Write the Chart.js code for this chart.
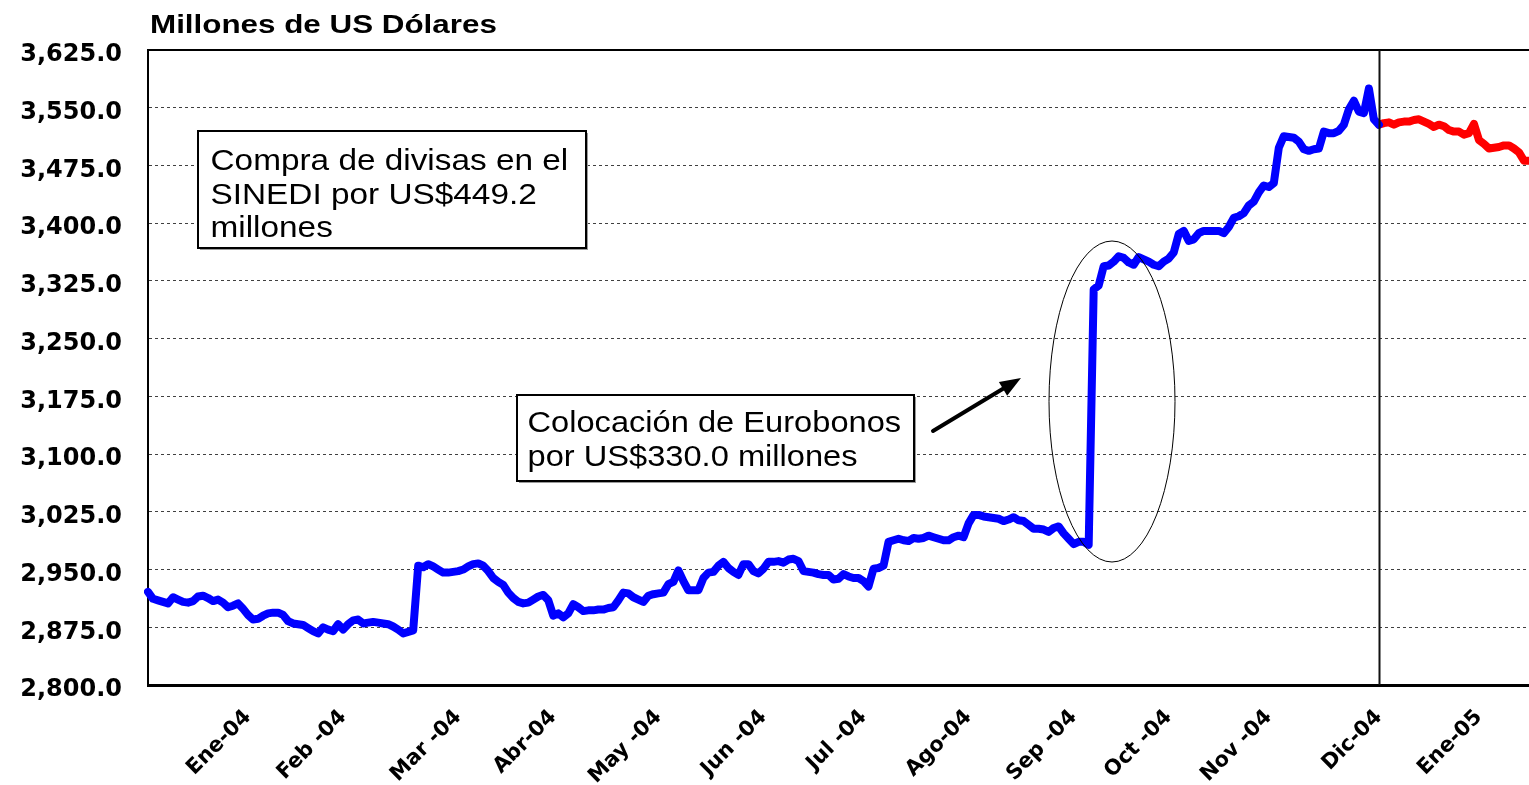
<!DOCTYPE html>
<html><head><meta charset="utf-8">
<script src="https://cdn.jsdelivr.net/npm/chart.js@4"></script>
<style>html,body{margin:0;padding:0;background:#fff;} #wrap{width:1529px;height:785px;position:relative;}</style>
</head><body><div id="wrap"><canvas id="c"></canvas></div>
<script>
// Reservas (millones de US$), serie diaria 2004 (azul) y enero 2005 (rojo)
const blueValues = [
2921,2912,2910,2908,2906,2914,2911,2908,2907,2909,
2915,2916,2913,2909,2911,2907,2901,2903,2906,2899,
2891,2885,2886,2890,2893,2894,2894,2891,2883,2880,
2879,2878,2874,2870,2867,2875,2872,2870,2879,2872,
2879,2884,2885,2880,2881,2882,2881,2880,2879,2876,
2872,2867,2869,2871,2955,2953,2957,2954,2950,2946,
2946,2947,2948,2950,2954,2957,2958,2955,2948,2939,
2934,2930,2920,2913,2908,2906,2907,2911,2915,2917,
2910,2890,2893,2888,2893,2905,2901,2896,2897,2897,
2898,2898,2900,2901,2910,2920,2919,2914,2911,2908,
2916,2918,2919,2920,2931,2934,2949,2935,2923,2923,
2923,2939,2946,2947,2955,2960,2952,2947,2943,2957,
2957,2948,2945,2951,2960,2960,2961,2959,2963,2964,
2961,2948,2947,2946,2944,2943,2943,2937,2938,2944,
2941,2939,2939,2935,2928,2951,2952,2955,2986,2988,
2990,2988,2987,2991,2990,2991,2994,2992,2990,2988,
2988,2992,2994,2992,3010,3021,3021,3019,3018,3017,
3016,3013,3015,3018,3014,3013,3008,3003,3003,3002,
2999,3004,3006,2997,2990,2983,2986,2986,2982,3314,
3319,3344,3345,3350,3357,3355,3349,3346,3356,3353,
3350,3346,3344,3350,3354,3362,3386,3390,3377,3379,
3387,3390,3390,3390,3390,3387,3395,3407,3409,3413,
3423,3428,3440,3449,3447,3452,3498,3513,3512,3511,
3506,3496,3494,3496,3497,3519,3517,3517,3520,3528,
3548,3559,3545,3543,3575,3535,3528
];
const redValues = [
3528,3530,3531,3528,3531,3532,3532,3534,3535,3532,
3529,3525,3528,3526,3521,3519,3519,3515,3517,3529,
3508,3503,3497,3498,3499,3501,3501,3497,3492,3481,3481
];
const tickLabels = ['Ene-04','Feb -04','Mar -04','Abr-04','May -04','Jun -04','Jul -04','Ago-04','Sep -04','Oct -04','Nov -04','Dic-04','Ene-05'];
const tickIndex  = [20,39,62,81,102,123,143,164,185,204,224,246,266];
const yMin = 2800, yMax = 3625, yStep = 75;
const titleText = 'Millones de US Dólares';
const note1 = ['Compra de divisas en el','SINEDI por US$449.2','millones'];
const note2 = ['Colocación de Eurobonos','por US$330.0 millones'];

const splitIndex = blueValues.length - 1;
const N = splitIndex + redValues.length;
const categories = Array.from({length: N}, (_, i) => {
  const k = tickIndex.indexOf(i);
  return k >= 0 ? tickLabels[k] : '';
});
const blueData = blueValues.slice();
const redData = Array(splitIndex).fill(null).concat(redValues);

function drawBox(ctx, x, y, w, h, lines, tx, baselines, sx) {
  ctx.fillStyle = '#9a9a9a';
  ctx.fillRect(x + 2, y + 2, w, h);
  ctx.fillStyle = '#fff';
  ctx.fillRect(x, y, w, h);
  ctx.strokeStyle = '#000';
  ctx.lineWidth = 2;
  ctx.strokeRect(x, y, w, h);
  ctx.fillStyle = '#000';
  ctx.font = '29px "Liberation Sans", Arial, sans-serif';
  ctx.textAlign = 'left';
  ctx.textBaseline = 'alphabetic';
  lines.forEach((t, i) => {
    ctx.save();
    ctx.translate(tx, baselines[i]);
    ctx.scale(sx, 1);
    ctx.fillText(t, 0, 0);
    ctx.restore();
  });
}

const annot = {
  id: 'annot',
  afterDatasetsDraw(chart) {
    const {ctx, chartArea: a, scales: {x}} = chart;
    ctx.save();
    ctx.strokeStyle = '#000';
    ctx.lineWidth = 2;
    ctx.beginPath(); ctx.moveTo(a.left, a.top); ctx.lineTo(a.right, a.top); ctx.stroke();
    const vx = Math.round(x.getPixelForValue(splitIndex)) + 0.5;
    ctx.lineWidth = 2;
    ctx.strokeStyle = '#111';
    ctx.beginPath(); ctx.moveTo(vx, a.top); ctx.lineTo(vx, a.bottom); ctx.stroke();
    ctx.lineWidth = 1;
    ctx.strokeStyle = '#000';
    ctx.beginPath(); ctx.ellipse(1112, 401.5, 63, 160.5, 0, 0, Math.PI * 2); ctx.stroke();
    const x0 = 933, y0 = 431, x1 = 1021, y1 = 378;
    const dx = x1 - x0, dy = y1 - y0, L = Math.hypot(dx, dy), ux = dx / L, uy = dy / L;
    const bx = x1 - 21 * ux, by = y1 - 21 * uy;
    ctx.lineWidth = 4;
    ctx.lineCap = 'round';
    ctx.beginPath(); ctx.moveTo(x0, y0); ctx.lineTo(bx, by); ctx.stroke();
    ctx.fillStyle = '#000';
    ctx.beginPath();
    ctx.moveTo(x1, y1);
    ctx.lineTo(bx - uy * 8, by + ux * 8);
    ctx.lineTo(bx + uy * 8, by - ux * 8);
    ctx.closePath(); ctx.fill();
    drawBox(ctx, 198, 131, 388, 117, note1, 210.5, [170, 203.5, 237], 1.15);
    drawBox(ctx, 517, 395, 397, 86, note2, 527.5, [431.5, 466], 1.125);
    ctx.restore();
  },
  afterDraw(chart) {
    const ctx = chart.ctx;
    ctx.save();
    ctx.fillStyle = '#000';
    ctx.font = 'bold 25.5px "Liberation Sans", Arial, sans-serif';
    ctx.textAlign = 'left';
    ctx.textBaseline = 'alphabetic';
    ctx.translate(150, 33);
    ctx.scale(1.23, 1);
    ctx.fillText(titleText, 0, 0);
    ctx.restore();
  }
};

new Chart(document.getElementById('c'), {
  type: 'line',
  data: {
    labels: categories,
    datasets: [
      {data: blueData, borderColor: '#0000ff', borderWidth: 8, pointRadius: 0, tension: 0,
       borderJoinStyle: 'round', borderCapStyle: 'round', fill: false},
      {data: redData, borderColor: '#ff0000', borderWidth: 8, pointRadius: 0, tension: 0,
       borderJoinStyle: 'round', borderCapStyle: 'round', fill: false, spanGaps: false}
    ]
  },
  options: {
    responsive: true,
    maintainAspectRatio: false,
    animation: false,
    layout: {padding: {top: 50, left: 0, right: 0, bottom: 0}},
    plugins: {legend: {display: false}, tooltip: {enabled: false}, title: {display: false}},
    scales: {
      x: {
        type: 'category',
        offset: false,
        grid: {display: false, drawTicks: false},
        border: {display: true, color: '#000', width: 3},
        ticks: {
          autoSkip: false, maxRotation: 45, minRotation: 45, padding: 20,
          color: '#000', font: {family: '"DejaVu Sans", sans-serif', weight: 'bold', size: 21}
        },
        afterFit(s) { s.height = 100; s.paddingLeft = 0; s.paddingRight = 0; }
      },
      y: {
        min: yMin, max: yMax,
        grid: {
          drawTicks: false,
          color: c => (c.tick && (c.tick.value === yMax || c.tick.value === yMin)) ? 'rgba(0,0,0,0)' : '#404040',
          lineWidth: 1
        },
        border: {display: true, color: '#000', width: 2, dash: [3, 3]},
        ticks: {
          stepSize: yStep, padding: 26, labelOffset: 5, color: '#000',
          font: {family: '"DejaVu Sans", sans-serif', weight: 'bold', size: 24},
          callback: v => Number(v).toLocaleString('en-US', {minimumFractionDigits: 1, maximumFractionDigits: 1})
        },
        afterFit(s) { s.width = 148; s.paddingTop = 0; s.paddingBottom = 0; }
      }
    }
  },
  plugins: [annot]
});
</script>
</body></html>
